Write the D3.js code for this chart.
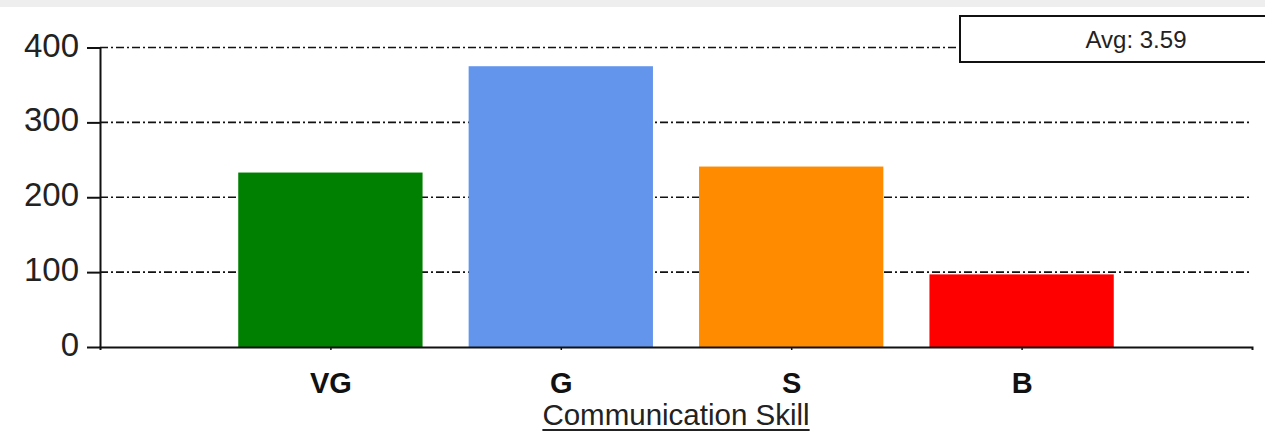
<!DOCTYPE html>
<html><head><meta charset="utf-8">
<script src="https://cdn.jsdelivr.net/npm/d3@7"></script>
<style>html,body{margin:0;padding:0;background:#fff;overflow:hidden}</style>
</head><body>
<svg id="c" width="1265" height="431"></svg>
<script>
const categories = ["VG", "G", "S", "B"];
const values = [233, 375, 241, 97];
const colors = ["#008000", "#6495ED", "#FF8C00", "#FF0000"];
const yTicks = [0, 100, 200, 300, 400];
const axisTitle = "Communication Skill";
const legendText = "Avg: 3.59";

const svg = d3.select("#c");
svg.append("rect").attr("x",0).attr("y",0).attr("width",1265).attr("height",7).attr("fill","#eeeeee");

const x = d3.scaleLinear().domain([0, categories.length + 1]).range([100, 1252]);
const y = d3.scaleLinear().domain([0, 400]).range([347, 47.5]);
const unit = x(1) - x(0);

// gridlines
svg.append("g").selectAll("line").data(yTicks.filter(d => d > 0)).join("line")
  .attr("x1", 100).attr("x2", 1250)
  .attr("y1", d => y(d)).attr("y2", d => y(d))
  .attr("stroke", "#111").attr("stroke-width", 1.6)
  .attr("stroke-dasharray", "8,3,2,3");

// bars
svg.append("g").selectAll("rect").data(values).join("rect")
  .attr("x", (d, i) => x(i + 1) - unit * 0.4)
  .attr("width", unit * 0.8)
  .attr("y", d => y(d))
  .attr("height", d => y(0) - y(d))
  .attr("fill", (d, i) => colors[i]);

// y axis
const ya = svg.append("g").attr("transform", "translate(100,0)")
  .call(d3.axisLeft(y).tickValues(yTicks).tickSize(13).tickPadding(8).tickSizeOuter(0));
ya.select(".domain").attr("stroke", "#111").attr("stroke-width", 2);
ya.selectAll(".tick line").attr("stroke", "#111").attr("stroke-width", 2);
ya.selectAll(".tick text").attr("font-family", "'Liberation Sans', Arial, sans-serif")
  .attr("font-size", 33).attr("fill", "#222").attr("dy", "0.26em");

// x axis
const xa = svg.append("g").attr("transform", `translate(0,${y(0)})`)
  .call(d3.axisBottom(x).tickValues(d3.range(1, categories.length + 1))
    .tickFormat(d => categories[d - 1]).tickSize(3).tickPadding(22).tickSizeOuter(3));
xa.select(".domain").attr("stroke", "#111").attr("stroke-width", 2);
xa.selectAll(".tick line").attr("stroke", "#111").attr("stroke-width", 1.5);
xa.selectAll(".tick text").attr("font-family", "'Liberation Sans', Arial, sans-serif")
  .attr("font-size", 29).attr("font-weight", "bold").attr("fill", "#111");

// axis title
const t = svg.append("text").attr("x", (x(0) + x(categories.length + 1)) / 2).attr("y", 425)
  .attr("text-anchor", "middle").attr("font-family", "'Liberation Sans', Arial, sans-serif")
  .attr("font-size", 29.5).attr("fill", "#222").text(axisTitle);
const tb = t.node().getBBox();
svg.append("line").attr("x1", tb.x).attr("x2", tb.x + tb.width).attr("y1", 430).attr("y2", 430)
  .attr("stroke", "#222").attr("stroke-width", 2);

// legend box
svg.append("rect").attr("x", 960).attr("y", 16).attr("width", 330).attr("height", 46)
  .attr("fill", "#fff").attr("stroke", "#111").attr("stroke-width", 2);
svg.append("text").attr("x", 1136).attr("y", 48).attr("text-anchor", "middle")
  .attr("font-family", "'Liberation Sans', Arial, sans-serif").attr("font-size", 24)
  .attr("fill", "#222").text(legendText);
</script>
</body></html>
